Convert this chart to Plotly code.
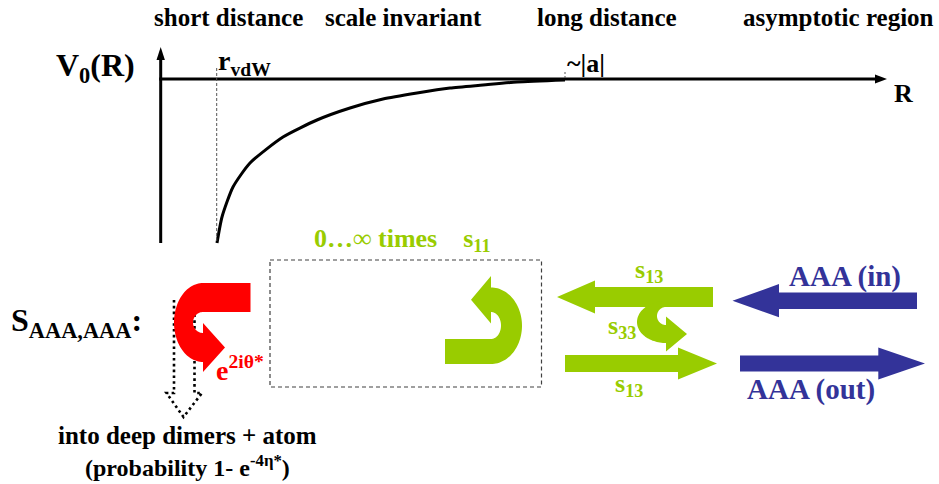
import math
import numpy as np
import plotly.graph_objects as go

W, H = 939, 484
FONT = "Liberation Serif, Times New Roman, serif"
BLACK = "#000000"
RED = "#ff0000"
GREEN = "#99cc00"
BLUE = "#333399"

# Potential curve V0(R), from r_vdW out to ~|a|
R_curve = [217, 222, 233, 250, 283, 317, 350, 383, 417, 450, 483, 517, 565]
V_curve = [243, 217, 187, 163, 137, 120, 108, 99, 93, 88, 85, 82, 80]

# Region headers along the top
region_labels = ["short distance", "scale invariant", "long distance", "asymptotic region"]
region_x = [228, 403, 607, 838]


def path_from(points):
    return "M " + " L ".join(f"{x:.2f},{y:.2f}" for x, y in points) + " Z"


def straight_arrow(x_tail, x_tip, y_mid, band, head_half, head_len):
    s = 1 if x_tip > x_tail else -1
    xb = x_tip - s * head_len
    pts = [
        (x_tail, y_mid - band / 2), (xb, y_mid - band / 2), (xb, y_mid - head_half),
        (x_tip, y_mid), (xb, y_mid + head_half), (xb, y_mid + band / 2),
        (x_tail, y_mid + band / 2),
    ]
    return path_from(pts)


def uturn_arrow(c_out, r_out, c_in, r_in, th0, th1, tail_x, wing, head_len, n=60):
    ts = np.radians(np.linspace(th0, th1, n))
    outer = [(c_out[0] + r_out[0] * math.cos(t), c_out[1] + r_out[1] * math.sin(t)) for t in ts]
    inner = [(c_in[0] + r_in[0] * math.cos(t), c_in[1] + r_in[1] * math.sin(t)) for t in ts]
    po, pi = np.array(outer[-1]), np.array(inner[-1])
    u = (po - pi) / np.linalg.norm(po - pi)
    t1 = ts[-1]
    tang = np.array([r_out[0] * math.sin(t1), -r_out[1] * math.cos(t1)])
    tang = tang / np.linalg.norm(tang)
    tip = (po + pi) / 2 + tang * head_len
    head = [tuple(po + u * wing), tuple(tip), tuple(pi - u * wing)]
    pts = [(tail_x, outer[0][1])] + outer + head + inner[::-1] + [(tail_x, inner[0][1])]
    return path_from(pts)


fig = go.Figure()

# potential curve
fig.add_trace(go.Scatter(
    x=R_curve, y=V_curve, mode="lines",
    line=dict(color=BLACK, width=3, shape="spline", smoothing=0.6),
    hoverinfo="skip", showlegend=False,
))

shapes = []

# dotted hollow arrow (loss into deep dimers), drawn under the red arrow
shapes.append(dict(
    type="path",
    path="M 174,300 L 174,393 L 166.5,393 L 183.5,417 L 202,393 L 194.5,393 L 194.5,300",
    line=dict(color=BLACK, width=2.6, dash="2.6px,3.2px"), fillcolor="rgba(0,0,0,0)",
))

# axes
shapes.append(dict(type="line", x0=160.7, y0=243, x1=160.7, y1=58, line=dict(color=BLACK, width=3)))
shapes.append(dict(type="path", path=path_from([(156.5, 60), (160.7, 47), (164.9, 60)]),
                   fillcolor=BLACK, line=dict(width=0)))
shapes.append(dict(type="line", x0=159.2, y0=79, x1=877, y1=79, line=dict(color=BLACK, width=3)))
shapes.append(dict(type="path", path=path_from([(875, 74.5), (887, 79), (875, 83.5)]),
                   fillcolor=BLACK, line=dict(width=0)))

# r_vdW marker and ~|a| tick
shapes.append(dict(type="line", x0=216.7, y0=68, x1=216.7, y1=243,
                   line=dict(color="#555555", width=1, dash="3px,2px")))
shapes.append(dict(type="line", x0=565, y0=72, x1=565, y1=79,
                   line=dict(color="#555555", width=1, dash="2px,2px")))

# repeated-reflection box
shapes.append(dict(type="rect", x0=270, y0=260, x1=541.5, y1=387,
                   line=dict(color="#404040", width=1.2, dash="4px,3px"), fillcolor="rgba(0,0,0,0)"))

# red U-turn (short-distance reflection)
shapes.append(dict(type="path",
                   path=uturn_arrow((203, 322.5), (29, 39.5), (203, 322.5), (10, 10.5),
                                    -90, -270, 250.5, 10, 22),
                   fillcolor=RED, line=dict(width=0)))

# green U-turn inside the box (s11)
shapes.append(dict(type="path",
                   path=uturn_arrow((491, 325.75), (31, 38.25), (491, 325.5), (10, 13.5),
                                    90, -90, 445, 11.5, 20),
                   fillcolor=GREEN, line=dict(width=0)))

# green straight arrows (s13) and the s33 turn
shapes.append(dict(type="path", path=straight_arrow(713, 557, 297, 20, 16.5, 38),
                   fillcolor=GREEN, line=dict(width=0)))
shapes.append(dict(type="path",
                   path=uturn_arrow((666, 322), (29, 21), (666, 316), (9, 9),
                                    -90, -270, 690, 8.5, 21),
                   fillcolor=GREEN, line=dict(width=0)))
shapes.append(dict(type="path", path=straight_arrow(565, 717, 363.5, 17, 16, 39),
                   fillcolor=GREEN, line=dict(width=0)))

# blue in/out arrows
shapes.append(dict(type="path", path=straight_arrow(917, 732.5, 300.7, 16.5, 16.6, 46.5),
                   fillcolor=BLUE, line=dict(width=0)))
shapes.append(dict(type="path", path=straight_arrow(740, 925, 363.5, 16.2, 16, 46.7),
                   fillcolor=BLUE, line=dict(width=0)))

annotations = []


def label(text, x, y, size, color=BLACK, xanchor="center", yanchor="middle"):
    annotations.append(dict(
        text=text, x=x, y=y, xref="x", yref="y", showarrow=False,
        xanchor=xanchor, yanchor=yanchor,
        font=dict(family=FONT, size=size, color=color), borderpad=0,
    ))


for txt, xx in zip(region_labels, region_x):
    label(f"<b>{txt}</b>", xx, 17, 25)

label("<b>V<sub>0</sub>(R)</b>", 55, 67, 32, xanchor="left")
label("<b>r<sub>vdW</sub></b>", 217, 62, 28, xanchor="left")
label("<b>~|a|</b>", 566, 63, 26, xanchor="left")
label("<b>R</b>", 903, 93, 26)

label("<b>0…∞ times\u00a0\u00a0\u00a0\u00a0s<sub>11</sub></b>", 313, 240, 26, GREEN, xanchor="left")
label("<b>S<sub>AAA,AAA</sub>:</b>", 10, 322, 32, xanchor="left")
label("<b>e<sup>2iθ*</sup></b>", 215, 368, 28, RED, xanchor="left")

label("<b>s<sub>13</sub></b>", 634, 271, 26, GREEN, xanchor="left")
label("<b>s<sub>33</sub></b>", 607, 327, 26, GREEN, xanchor="left")
label("<b>s<sub>13</sub></b>", 614, 385, 26, GREEN, xanchor="left")

label("<b>AAA (in)</b>", 845, 276, 29, BLUE)
label("<b>AAA (out)</b>", 811, 389, 29, BLUE)

label("<b>into deep dimers + atom</b>", 187, 435, 25)
label("<b>(probability 1- e<sup>-4η*</sup>)</b>", 187, 466, 24)

fig.update_layout(
    width=W, height=H,
    margin=dict(l=0, r=0, t=0, b=0),
    paper_bgcolor="white", plot_bgcolor="white",
    xaxis=dict(range=[0, W], visible=False, fixedrange=True),
    yaxis=dict(range=[H, 0], visible=False, fixedrange=True),
    shapes=shapes, annotations=annotations,
    showlegend=False,
)

fig.write_html("out.html", config={"displayModeBar": False})
